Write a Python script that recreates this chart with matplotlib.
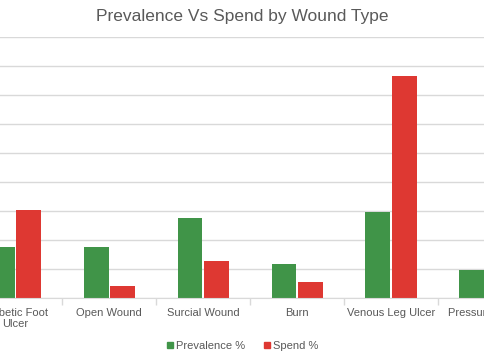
import numpy as np
import matplotlib
matplotlib.use("Agg")
import matplotlib.pyplot as plt
from matplotlib.lines import Line2D

plt.rcParams['font.family'] = ['Liberation Sans', 'DejaVu Sans']

categories = ["Diabetic Foot\nUlcer", "Open Wound", "Surcial Wound", "Burn",
              "Venous Leg Ulcer", "Pressure Ulcer"]
prevalence = [8.8, 8.8, 13.8, 5.9, 14.9, 4.9]
spend = [15.2, 2.0, 6.4, 2.8, 38.3, 1.5]

green = "#409448"
red = "#de3832"
grey_text = "#595959"
grid_col = "#d9d9d9"

fig = plt.figure(figsize=(4.85, 3.6), dpi=100)
ax = fig.add_axes([0, 1 - 298/360, 1, 261/360])

x = np.arange(len(categories))
w = 0.265
ax.bar(x - 0.14, prevalence, w, color=green, label="Prevalence %", zorder=3)
ax.bar(x + 0.14, spend, w, color=red, label="Spend %", zorder=3)

# category spacing is ~96 px, first center sits ~16 px from the left edge
ax.set_xlim(-15.7/96.3, (485 - 15.7)/96.3)
ax.set_ylim(0, 45)
ax.set_yticks(np.arange(0, 46, 5))
ax.yaxis.grid(True, color=grid_col, linewidth=1, zorder=0)
ax.tick_params(axis='y', left=False, labelleft=False)

ax.set_xticks(x)
ax.set_xticklabels(categories, fontsize=8, color=grey_text)
ax.tick_params(axis='x', length=0, pad=7)
ax.set_xticks(x[:-1] + 0.5, minor=True)
ax.tick_params(axis='x', which='minor', length=5, color=grid_col, width=1)

for s in ['top', 'left', 'right']:
    ax.spines[s].set_visible(False)
ax.spines['bottom'].set_color(grid_col)
ax.spines['bottom'].set_zorder(4)

fig.text(0.5, 1 - 16/360, "Prevalence Vs Spend by Wound Type", ha='center', va='center',
         fontsize=12.5, color=grey_text)

handles = [Line2D([], [], marker='s', linestyle='none', color=green, markersize=4),
           Line2D([], [], marker='s', linestyle='none', color=red, markersize=4)]
fig.legend(handles, ["Prevalence %", "Spend %"], loc='center', bbox_to_anchor=(0.5, 1 - 346/360),
           ncol=2, frameon=False, fontsize=8, handlelength=0.6, handletextpad=0.3,
           columnspacing=1.6, labelcolor=grey_text)

fig.savefig("out.png", dpi=100)
